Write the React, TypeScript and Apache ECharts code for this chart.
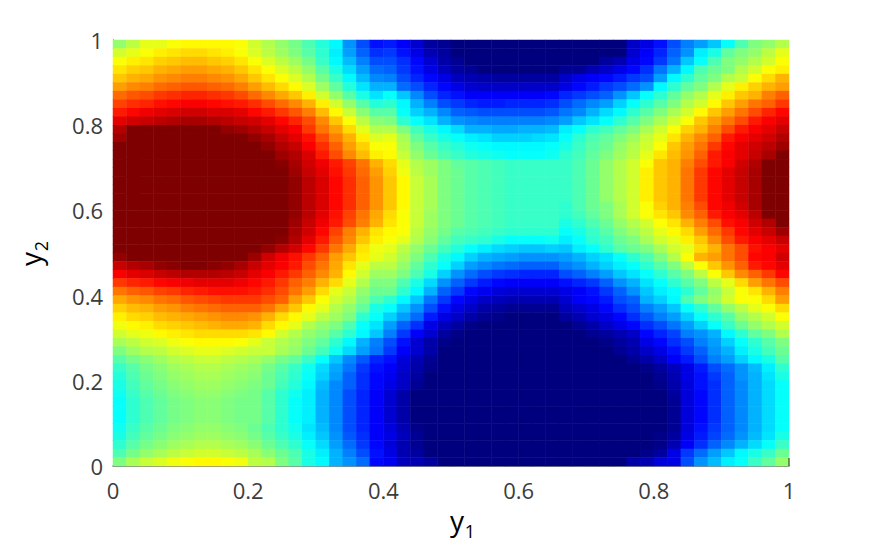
import React, { useEffect, useRef } from "react";
import * as echarts from "echarts";

const jetColors = ["#00007f", "#0000ff", "#007fff", "#00ffff", "#7fff7f", "#ffff00", "#ff7f00", "#ff0000", "#7f0000"];

// Colour level (0..100) of each cell; first row is the top of the plot.
const cellRows: number[][] = [
[52,56,60,60,62,63,63,63,63,62, 58,55,52,49,45,41,37,27,20,14, 15,12,8,3,2,0,0,0,0,0,0,0,0, 0,0,0,0,0,7,10,14,20,25,28,32,38,45,50,52,55],
[58,60,62,64,65,66,66,65,64,62, 59,56,53,50,46,42,36,28,22,17, 18,14,10,5,3,0,0,0,0,0,0,0,0, 0,0,0,0,0,8,12,16,22,27,36,40,47,50,52,56,60],
[62,64,65,67,68,69,69,68,67,65, 62,59,56,53,49,43,37,31,25,20, 20,17,13,8,4,2,0,0,0,0,0,0,0, 0,0,0,3,5,10,13,18,24,32,38,45,50,52,55,58,62],
[65,67,68,70,71,72,72,71,70,68, 65,62,59,56,52,46,40,34,28,23, 22,18,14,10,6,3,2,0,0,0,0,0,0, 2,2,5,7,10,13,17,24,30,37,45,48,50,55,58,62,64],
[68,70,71,73,74,75,75,74,73,71, 68,65,62,59,55,49,43,37,31,26, 25,20,16,13,10,6,5,4,3,3,3,3,3, 7,10,12,13,15,18,20,28,37,42,47,50,55,57,62,66,70],
[72,74,75,77,78,79,79,78,77,75, 72,69,66,63,59,53,47,41,35,30, 30,23,20,16,13,10,8,7,7,7,7,7,7, 10,13,15,18,20,23,27,37,42,47,50,55,60,64,67,70,72],
[77,79,80,82,83,84,84,83,82,80, 77,74,71,68,64,58,52,46,40,35, 38,32,26,20,16,14,12,12,12,12,12,12,13, 16,18,20,22,27,32,38,42,47,52,55,60,64,68,70,75,78],
[81,83,84,86,87,88,88,87,86,85, 83,80,77,74,70,64,58,52,46,41, 42,37,30,25,20,18,16,15,15,16,16,16,17, 20,23,26,28,33,38,42,46,50,55,58,63,68,72,76,78,82],
[85,87,89,90,91,92,92,91,91,90, 87,85,82,79,75,69,63,57,51,46, 46,38,33,30,26,22,21,20,20,20,20,20,21, 24,26,30,34,37,42,46,50,54,58,63,68,72,76,80,84,87],
[90,92,93,94,95,96,96,95,94,93, 92,90,87,84,80,74,68,62,56,51, 50,42,38,35,30,27,26,25,25,25,25,25,26, 28,32,35,38,42,46,50,54,58,62,68,72,76,80,85,88,90],
[95,100,100,100,100,100,100,100,98,97, 95,93,90,88,82,76,72,66,60,55, 55,50,44,40,37,34,30,30,29,29,30,30,31, 36,38,42,44,47,50,54,58,62,67,70,75,80,85,88,90,93],
[97,100,100,100,100,100,100,100,100,100, 98,96,93,90,86,80,75,70,64,59, 60,54,47,43,40,38,36,35,33,33,33,34,35, 38,42,45,47,50,53,57,60,65,70,74,78,85,88,90,92,95],
[100,100,100,100,100,100,100,100,100,100, 100,98,95,93,88,83,78,72,67,62, 62,55,50,46,43,41,39,38,37,37,37,37,38, 40,43,46,48,52,55,58,62,68,72,76,82,87,90,92,94,97],
[100,100,100,100,100,100,100,100,100,100, 100,100,97,95,91,85,80,74,69,64, 63,57,52,48,45,43,41,40,39,38,38,38,39, 42,44,47,50,53,56,60,65,69,73,78,85,88,90,93,96,100],
[100,100,100,100,100,100,100,100,100,100, 100,100,99,96,92,89,85,81,76,70, 66,60,55,53,50,47,46,45,44,43,43,43,43, 43,45,48,52,55,58,62,68,70,75,80,85,88,92,95,100,100],
[100,100,100,100,100,100,100,100,100,100, 100,100,100,97,93,90,86,82,77,72, 67,61,56,53,50,48,46,45,44,43,43,43,43, 43,45,48,52,55,58,64,68,70,76,82,87,90,93,96,100,100],
[100,100,100,100,100,100,100,100,100,100, 100,100,100,98,94,91,87,83,78,73, 68,63,57,54,50,48,46,45,44,43,43,43,43, 43,45,48,52,55,58,64,68,70,76,82,87,90,93,96,100,100],
[100,100,100,100,100,100,100,100,100,100, 100,100,100,98,94,91,87,83,78,73, 68,63,57,54,50,48,46,45,44,43,43,43,43, 43,45,48,52,55,58,64,68,70,76,82,87,90,93,96,100,100],
[100,100,100,100,100,100,100,100,100,100, 100,100,100,98,94,91,87,83,78,73, 68,63,57,54,50,48,46,45,44,43,43,43,43, 43,45,48,52,55,58,64,68,70,76,82,87,90,93,96,100,100],
[100,100,100,100,100,100,100,100,100,100, 100,100,100,98,94,91,87,83,78,73, 68,63,57,54,50,48,46,45,44,43,43,43,43, 42,45,48,50,54,58,62,67,70,75,80,87,89,92,96,100,100],
[100,100,100,100,100,100,100,100,100,100, 100,100,100,98,94,90,86,81,76,71, 66,62,57,53,50,48,46,45,44,43,43,43,43, 42,44,47,50,54,58,62,65,68,74,78,85,88,90,94,100,100],
[100,100,100,100,100,100,100,100,100,100, 100,100,100,97,93,89,85,80,75,70, 65,62,57,53,50,48,46,45,44,43,43,43,43, 40,42,45,48,52,55,58,62,65,70,75,80,86,88,92,95,100],
[100,100,100,100,100,100,100,100,100,100, 100,100,100,96,92,87,81,75,70,65, 63,62,56,52,49,46,45,44,43,42,42,42,42, 38,40,43,46,50,53,56,60,63,66,72,77,82,87,90,93,97],
[100,100,100,100,100,100,100,100,100,100, 100,100,99,95,90,85,79,74,68,64, 62,60,55,51,47,44,43,42,40,38,38,38,39, 36,38,42,44,48,50,54,58,60,64,68,74,80,85,88,90,93],
[100,100,100,100,100,100,100,100,100,100, 100,98,95,92,87,82,76,71,65,61, 60,56,52,48,44,41,38,36,34,33,32,32,33, 32,36,38,42,46,48,50,54,58,60,66,70,76,80,86,88,90],
[98,100,100,100,100,100,100,100,100,100, 97,92,89,86,82,78,72,68,64,60, 58,54,50,45,40,37,33,30,29,28,27,27,27, 28,30,33,35,38,42,45,50,55,62,70,72,76,80,87,88,92],
[93,95,96,98,99,100,100,99,98,96, 93,90,88,85,80,76,71,65,60,56, 56,52,47,42,38,33,28,26,24,23,22,22,22, 25,27,30,33,36,38,42,46,50,56,62,68,73,78,85,87,90],
[88,90,91,93,94,95,95,95,94,93, 90,88,85,82,78,74,70,63,58,53, 53,50,45,40,33,27,23,20,18,17,16,16,16, 20,22,25,28,32,35,38,42,46,50,56,62,68,74,78,82,87],
[82,84,85,87,88,89,90,90,90,89, 87,85,82,78,75,70,66,60,55,50, 50,45,40,34,27,22,18,15,13,12,12,12,12, 14,16,18,22,27,30,35,38,42,46,50,56,60,66,72,76,80],
[76,78,79,81,82,84,85,86,86,86, 85,83,80,76,72,66,60,57,52,48, 48,42,37,30,22,18,13,11,9,8,8,8,8, 10,12,14,18,22,27,32,36,38,42,47,52,57,62,65,70,75],
[71,73,74,76,77,79,80,81,82,82, 82,80,78,72,68,62,58,55,50,45, 42,37,32,24,18,13,10,7,6,5,5,5,5, 8,12,13,15,20,22,30,33,37,45,50,53,58,62,62,66,72],
[67,69,70,72,73,75,76,77,78,78, 78,76,72,68,63,60,55,52,47,40, 38,32,27,20,14,10,7,4,3,2,2,2,2, 6,8,10,13,17,20,25,28,32,38,42,47,52,56,60,62,66],
[64,66,67,69,70,71,72,73,74,74, 73,70,66,63,60,56,53,50,42,38, 33,28,23,15,10,7,4,2,1,0,0,0,0, 3,5,8,10,13,17,21,25,28,33,38,42,46,52,55,58,62],
[61,63,64,66,67,68,69,70,71,71, 70,66,63,60,55,52,50,45,38,35, 28,22,17,10,6,3,1,0,0,0,0,0,0, 0,2,4,7,10,13,17,20,24,28,33,38,43,48,52,55,58],
[58,60,61,63,64,65,66,66,66,66, 65,63,58,55,52,50,46,42,37,32, 25,18,12,8,3,1,0,0,0,0,0,0,0, 0,0,2,3,5,7,13,16,19,25,27,30,37,42,47,50,55],
[54,56,58,59,61,62,63,63,63,62, 60,57,55,53,50,47,42,37,30,25, 20,14,8,4,1,0,0,0,0,0,0,0,0, 0,0,0,1,3,5,10,13,17,20,25,28,33,38,42,46,50],
[50,53,55,56,58,59,60,60,59,58, 57,57,54,52,48,44,39,34,28,24, 18,12,8,4,0,0,0,0,0,0,0,0,0, 0,0,0,0,2,4,7,10,14,18,22,27,30,36,40,44,48],
[46,49,51,53,55,56,57,57,56,55, 54,52,49,47,43,38,32,26,21,16, 14,9,5,2,0,0,0,0,0,0,0,0,0, 0,0,0,0,0,2,4,7,12,15,20,25,28,33,37,40,46],
[43,46,49,51,53,54,55,55,54,53, 52,49,46,43,39,34,29,24,18,14, 12,8,4,1,0,0,0,0,0,0,0,0,0, 0,0,0,0,0,0,1,3,6,10,15,20,23,27,31,36,42],
[41,45,48,50,52,53,54,54,53,52, 51,48,45,42,38,33,28,22,17,13, 11,7,3,0,0,0,0,0,0,0,0,0,0, 0,0,0,0,0,0,0,2,5,10,14,18,22,27,30,35,40],
[40,44,47,49,51,52,53,53,52,51, 50,48,44,41,37,31,26,22,17,13, 10,7,2,0,0,0,0,0,0,0,0,0,0, 0,0,0,0,0,0,0,1,4,9,14,17,22,26,30,34,38],
[39,43,46,48,50,51,52,52,51,50, 49,46,42,39,36,30,26,20,16,12, 8,4,0,0,0,0,0,0,0,0,0,0,0, 0,0,0,0,0,0,0,0,3,9,13,17,22,26,30,34,38],
[38,42,45,47,49,50,51,51,50,49, 49,46,42,38,36,30,26,20,16,12, 8,4,0,0,0,0,0,0,0,0,0,0,0, 0,0,0,0,0,0,0,0,2,9,13,17,22,26,30,34,38],
[38,42,45,47,49,50,51,51,50,49, 49,46,42,38,36,30,26,20,16,12, 8,4,0,0,0,0,0,0,0,0,0,0,0, 0,0,0,0,0,0,0,0,2,9,13,17,22,26,30,34,38],
[38,42,45,47,49,50,51,51,50,49, 49,46,42,38,36,30,26,20,16,12, 8,4,0,0,0,0,0,0,0,0,0,0,0, 0,0,0,0,0,0,0,0,2,9,13,17,22,26,30,34,38],
[39,43,46,48,50,51,52,52,51,50, 48,45,42,39,35,31,26,20,16,12, 9,5,1,0,0,0,0,0,0,0,0,0,0, 0,0,0,0,0,0,0,0,2,9,14,18,22,26,30,34,38],
[40,44,47,49,51,52,53,53,52,51, 49,46,43,40,36,32,27,21,17,12, 10,6,2,0,0,0,0,0,0,0,0,0,0, 0,0,0,0,0,0,0,1,3,10,15,19,23,27,31,35,40],
[42,46,49,51,53,54,55,55,54,53, 51,48,45,42,38,34,28,23,18,13, 9,5,2,0,0,0,0,0,0,0,0,0,0, 0,0,0,0,0,0,0,1,5,12,17,22,26,30,34,38,43],
[45,49,52,54,56,57,58,58,57,56, 54,51,48,45,40,36,30,25,20,14, 10,5,3,0,0,0,0,0,0,0,0,0,0, 0,0,0,0,0,0,1,3,10,18,23,28,32,37,40,43,48],
[50,54,57,59,61,62,63,63,62,61, 56,55,50,46,40,37,30,27,23,13, 11,6,5,3,0,0,0,0,0,0,0,0,0, 0,0,0,0,0,4,5,9,10,20,27,31,36,38,43,47,52],
];

const columnIds = cellRows[0].map((_, i) => i);
const rowIds = cellRows.map((_, i) => i);

const FONT = "'Open Sans', sans-serif";
const INK = "#3c3c3c";

export default function App() {
  const ref = useRef<HTMLDivElement>(null);
  useEffect(() => {
    document.body.style.margin = "0";
    const chart = echarts.init(ref.current!, undefined, { renderer: "svg" });
    const cells: number[][] = [];
    cellRows.forEach((row, j) => row.forEach((v, i) => cells.push([i, cellRows.length - 1 - j, v])));
    const hiddenCat = (data: number[]) => ({
      type: "category" as const,
      data,
      show: false,
      boundaryGap: true,
    });
    const title = (text: string, x: number, y: number, fontSize: number, rotation = 0) => ({
      type: "text",
      x,
      y,
      rotation,
      z: 10,
      style: {
        text,
        fontFamily: FONT,
        fontSize,
        fontWeight: 500,
        fill: "#000000",
        align: "center",
        verticalAlign: "middle",
      },
    });
    chart.setOption({
      animation: false,
      backgroundColor: "#ffffff",
      grid: { left: 113, top: 40, width: 676, height: 426, containLabel: false },
      visualMap: {
        show: false,
        type: "continuous",
        min: 0,
        max: 100,
        dimension: 2,
        seriesIndex: 0,
        inRange: { color: jetColors },
      },
      xAxis: [
        hiddenCat(columnIds),
        {
          type: "value",
          min: 0,
          max: 1,
          interval: 0.2,
          position: "bottom",
          splitLine: { show: false },
          axisTick: { show: false },
          axisLine: { show: true, lineStyle: { color: "#666666", width: 1.5 } },
          axisLabel: { color: INK, fontFamily: FONT, fontSize: 22, margin: 13, showMinLabel: true, showMaxLabel: true },
        },
      ],
      yAxis: [
        hiddenCat(rowIds),
        {
          type: "value",
          min: 0,
          max: 1,
          interval: 0.2,
          position: "left",
          splitLine: { show: false },
          axisTick: { show: false },
          axisLine: { show: true, lineStyle: { color: "#333333", width: 1 } },
          axisLabel: { color: INK, fontFamily: FONT, fontSize: 22, margin: 10, showMinLabel: true, showMaxLabel: true },
        },
      ],
      graphic: [
        title("y", 457, 520, 28),
        title("1", 470, 531, 18),
        title("y", 30, 259, 28, Math.PI / 2),
        title("2", 41, 246, 18, Math.PI / 2),
        { type: "line", z: 10, shape: { x1: 789, y1: 458, x2: 789, y2: 466 }, style: { stroke: "#222222", lineWidth: 1 } },
      ],
      series: [
        {
          type: "heatmap",
          xAxisIndex: 0,
          yAxisIndex: 0,
          data: cells,
          progressive: 0,
          itemStyle: { borderWidth: 0 },
          emphasis: { disabled: true },
        },
      ],
    });
    return () => chart.dispose();
  }, []);
  return <div ref={ref} style={{ position: "absolute", left: 0, top: 0, width: 872, height: 542 }} />;
}
